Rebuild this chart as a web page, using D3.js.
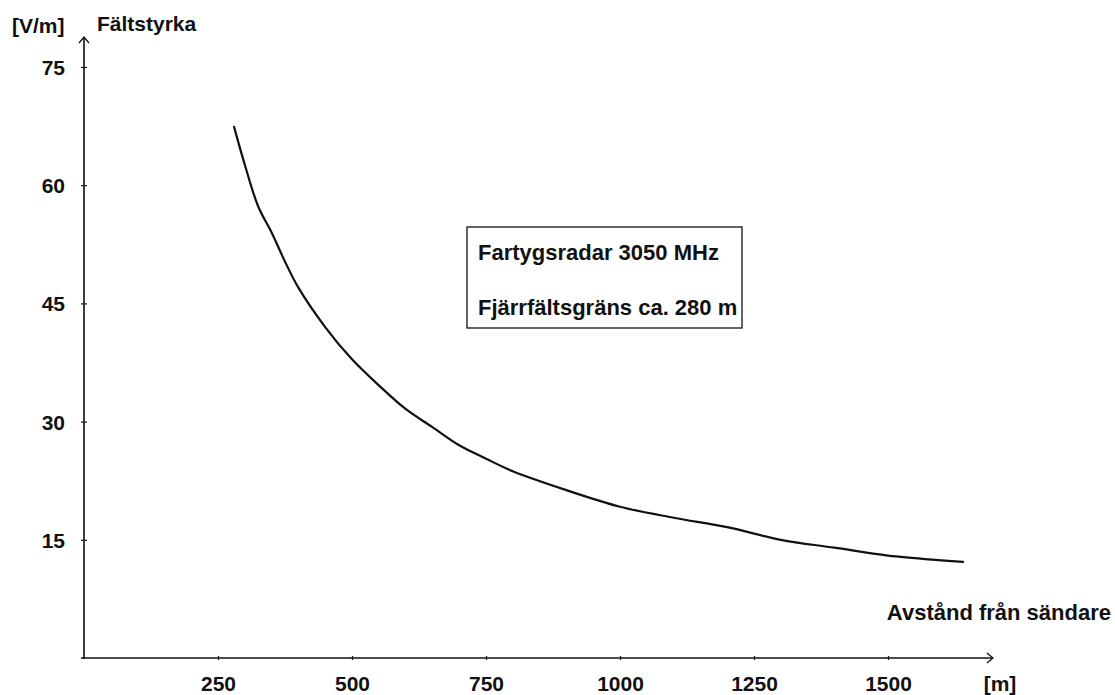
<!DOCTYPE html>
<html>
<head>
<meta charset="utf-8">
<script src="https://cdn.jsdelivr.net/npm/d3@7"></script>
<style>
  html, body { margin: 0; padding: 0; background: #fff; }
  svg { display: block; }
  text { font-family: "Liberation Sans", Arial, sans-serif; fill: #111; font-weight: bold; }
</style>
</head>
<body>
<svg id="chart" width="1115" height="695"></svg>
<script>
// Field strength from a ship radar (3050 MHz) versus distance from the transmitter
const distance = [280, 300, 325, 350, 375, 400, 450, 500, 550, 600, 650, 700, 750,
                  800, 900, 1000, 1100, 1200, 1300, 1400, 1500, 1600, 1640];
const fieldStrength = [67.4, 62.6, 57.3, 54.0, 50.3, 47.0, 42.0, 37.9, 34.6, 31.6, 29.3, 27.0, 25.3,
                       23.7, 21.3, 19.2, 17.8, 16.6, 15.0, 14.0, 13.0, 12.4, 12.2];
const xTicks = [250, 500, 750, 1000, 1250, 1500];
const yTicks = [15, 30, 45, 60, 75];
const infoLines = ["Fartygsradar 3050 MHz", "Fjärrfältsgräns ca. 280 m"];

const svg = d3.select("#chart");
const ink = "#111";
const fontFamily = "'Liberation Sans', Arial, sans-serif";

const x = d3.scaleLinear().domain([0, 1500]).range([84, 888]);
const y = d3.scaleLinear().domain([0, 75]).range([658, 67]);
const x0 = x(0), y0 = y(0);

// Axis lines with open arrowheads
const axes = svg.append("g").attr("stroke", ink).attr("fill", "none").attr("stroke-width", 1.6);
axes.append("line").attr("x1", x0).attr("y1", y0 + 1).attr("x2", x0).attr("y2", 37);
axes.append("path").attr("d", `M${x0 - 5},${43} L${x0},${37} L${x0 + 5},${43}`).attr("stroke-width", 1.3);
axes.append("line").attr("x1", x0 - 3).attr("y1", y0).attr("x2", 993).attr("y2", y0);
axes.append("path").attr("d", `M${987},${y0 - 5} L${993},${y0} L${987},${y0 + 5}`).attr("stroke-width", 1.3);

// Y axis ticks and labels
const yAxis = svg.append("g")
  .attr("transform", `translate(${x0},0)`)
  .call(d3.axisLeft(y).tickValues(yTicks).tickFormat(d3.format("d")).tickSize(3).tickPadding(0));
yAxis.select(".domain").remove();
yAxis.selectAll(".tick line").attr("x1", -3).attr("x2", 3).attr("stroke", ink).attr("stroke-width", 1.2);
yAxis.selectAll(".tick text")
  .attr("x", -19).attr("dy", "0.36em")
  .style("font-family", fontFamily)
  .style("font-size", "21px").style("font-weight", "bold").attr("fill", ink);

// X axis ticks and labels
const xAxis = svg.append("g")
  .attr("transform", `translate(0,${y0})`)
  .call(d3.axisBottom(x).tickValues(xTicks).tickFormat(d3.format("d")).tickSize(3).tickPadding(0));
xAxis.select(".domain").remove();
xAxis.selectAll(".tick line").attr("y1", -2).attr("y2", 2).attr("stroke", ink).attr("stroke-width", 1.2);
xAxis.selectAll(".tick text")
  .attr("y", 33).attr("dy", 0)
  .style("font-family", fontFamily)
  .style("font-size", "21px").style("font-weight", "bold").attr("fill", ink);

// Axis titles and units
const label = (tx, ty, str, size, anchor) => svg.append("text")
  .attr("x", tx).attr("y", ty).attr("text-anchor", anchor || "start")
  .style("font-size", size + "px").text(str);
label(12, 33, "[V/m]", 21);
label(97, 31, "Fältstyrka", 21);
label(1000, 691, "[m]", 21, "middle");
label(1111, 620, "Avstånd från sändare", 22, "end");

// Field strength curve
const line = d3.line()
  .x((d, i) => x(distance[i]))
  .y(d => y(d))
  .curve(d3.curveCatmullRom.alpha(0.5));
svg.append("path")
  .datum(fieldStrength)
  .attr("d", line)
  .attr("fill", "none")
  .attr("stroke", ink)
  .attr("stroke-width", 2.2)
  .attr("stroke-linecap", "round");

// Annotation box
const box = svg.append("g");
box.append("rect")
  .attr("x", 467).attr("y", 227).attr("width", 275).attr("height", 101)
  .attr("fill", "#fff").attr("stroke", ink).attr("stroke-width", 1.3);
box.selectAll("text").data(infoLines).join("text")
  .attr("x", 478).attr("y", (d, i) => 260 + i * 55)
  .style("font-size", "22px")
  .text(d => d);
</script>
</body>
</html>
